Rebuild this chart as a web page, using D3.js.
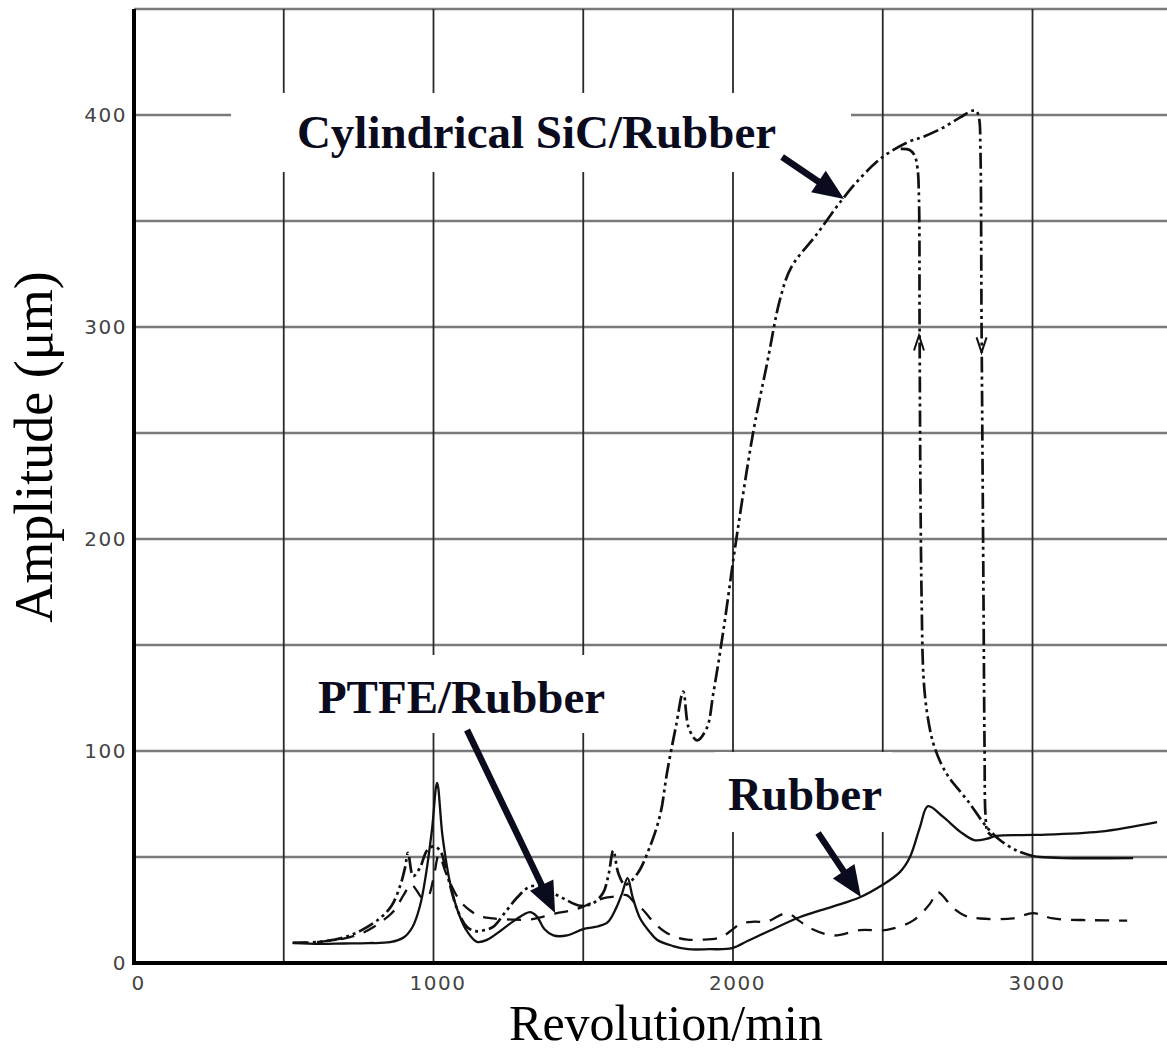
<!DOCTYPE html>
<html>
<head>
<meta charset="utf-8">
<script src="https://cdn.jsdelivr.net/npm/d3@7"></script>
<style>
  html, body { margin: 0; padding: 0; background: #fff; }
  svg { display: block; }
</style>
</head>
<body>
<svg id="chart" width="1167" height="1052"></svg>
<script>
// ---------- data ----------
const xTicks = [0, 1000, 2000, 3000];
const yTicks = [0, 100, 200, 300, 400];
const xGrid = [500, 1000, 1500, 2000, 2500, 3000];
const yGrid = [50, 100, 150, 200, 250, 300, 350, 400, 450];

// Rubber (solid)
const rubber = [
  [530,9.5],[620,9],[700,9.2],[780,9.4],[855,9.8],[900,12],[930,17],[955,27],[975,42],[995,63],
  [1012,85],[1030,60],[1055,38],[1085,23],[1112,15],[1145,10],[1180,11],[1222,15],[1270,20],
  [1322,24],[1345,22],[1370,16],[1400,13],[1446,13],[1500,16],[1540,17],[1580,19],[1610,26],
  [1630,33],[1648,40],[1665,31],[1690,21],[1720,15],[1746,11],[1800,8],[1850,6.5],[1920,6.5],
  [1997,7],[2050,10.5],[2113,14.6],[2224,21.7],[2330,26.5],[2424,31],[2501,37],[2558,43],
  [2591,50],[2624,64],[2651,74],[2701,69],[2758,62],[2805,58],[2845,58.5],[2880,60],
  [3002,60.4],[3225,62],[3416,66.5]
];

// PTFE/Rubber (dashed)
const ptfe = [
  [530,9.5],[620,10],[700,11.5],[760,14],[800,17],[840,21],[870,25],[900,32],[925,37],[945,34],
  [960,31],[980,31],[1000,40],[1018,51],[1040,43],[1065,35],[1090,29],[1120,25],[1156,22],
  [1200,21],[1260,20.5],[1322,20.5],[1370,22],[1412,23.5],[1450,24.5],[1489,26],[1530,28.5],
  [1566,30.5],[1613,31.5],[1645,32],[1680,27],[1700,25],[1730,20],[1770,15],[1813,12],
  [1847,11],[1890,11],[1957,12],[2000,16],[2024,18.5],[2070,19.5],[2113,19.5],[2180,23.5],
  [2220,20],[2257,16.5],[2334,13],[2424,15.5],[2514,15.6],[2601,20],[2658,28],[2683,33.5],
  [2735,26],[2780,22],[2825,21],[2935,21],[3002,23.5],[3069,21],[3200,20.2],[3316,20]
];

// Cylindrical SiC/Rubber, increasing speed (dash-dot-dot)
const sicUp = [
  [530,9.5],[620,10],[700,12],[760,15.5],[820,21],[860,27],[890,37],[905,45],[915,52],[932,41],
  [955,45],[978,53],[1000,55],[1022,53],[1045,42],[1080,25],[1112,17],[1140,15],[1170,15.5],
  [1199,17],[1240,24],[1280,31],[1322,36],[1366,36],[1400,33],[1433,30.5],[1489,27],[1530,28],
  [1566,33],[1585,42],[1600,53],[1618,42],[1640,37],[1680,42],[1723,55],[1757,70],[1780,90],
  [1810,112],[1834,128],[1852,111],[1880,105],[1913,111],[1934,127],[1967,156],[2007,196],
  [2067,250],[2114,283],[2157,313],[2194,328],[2281,344],[2364,360],[2430,371],[2498,380],
  [2581,387],[2640,390],[2701,394],[2760,399],[2798,402],[2812,402],[2822,398],[2826,385],
  [2830,300],[2836,180],[2840,100],[2843,70],[2850,62],[2865,60]
];

// Cylindrical SiC/Rubber, decreasing speed (dash-dot-dot, then solid tail)
const sicDown = [
  [2560,384],[2590,383.5],[2606,381],[2616,375],[2621,360],[2623,300],[2626,220],[2630,170],
  [2636,135],[2648,118],[2668,104],[2695,94],[2724,87],[2781,77],[2848,64],[2891,58],
  [2948,53],[3000,50.5]
];
const sicDownTail = [[3000,50.5],[3025,50],[3100,49.5],[3336,49.5]];

// jump direction marks on the vertical branches
const jumpMarks = [
  {rpm: 2621, amp: 296, dir: 1},
  {rpm: 2830, amp: 288, dir: -1}
];

// labels, white boxes and pointer arrows (data units)
const labels = [
  {text: "Cylindrical SiC/Rubber", rpm: 544, amp: 384.4},
  {text: "PTFE/Rubber", rpm: 614, amp: 117.9},
  {text: "Rubber", rpm: 1983, amp: 72.2}
];
const labelBoxes = [
  {x0: 324, x1: 2394, y0: 373.1, y1: 410.4},
  {x0: 554, x1: 1639, y0: 108.5, y1: 145.3},
  {x0: 1940, x1: 2531, y0: 61.8, y1: 99.5}
];
const pointers = [
  {from: [2164, 380.2], to: [2371, 360.4]},
  {from: [1112, 109.9], to: [1406, 23.6]},
  {from: [2284, 61.3], to: [2427, 31.1]}
];

// ---------- drawing ----------
const svg = d3.select("#chart");
svg.append("rect").attr("width", 1167).attr("height", 1052).attr("fill", "#fff");

const x = d3.scaleLinear().domain([0, 3450]).range([134, 134 + 3450 * 0.2995]);
const y = d3.scaleLinear().domain([0, 450]).range([963, 9]);

// grid
svg.append("g").selectAll("line").data(yGrid).join("line")
  .attr("x1", x(0)).attr("x2", 1167)
  .attr("y1", d => y(d)).attr("y2", d => y(d))
  .attr("stroke", "#7a7a7a").attr("stroke-width", 2.4);
svg.append("g").selectAll("line").data(xGrid).join("line")
  .attr("x1", d => x(d)).attr("x2", d => x(d))
  .attr("y1", y(450)).attr("y2", y(0))
  .attr("stroke", "#2a2a2a").attr("stroke-width", 1.8);

// white label boxes (hide grid behind labels)
svg.append("g").selectAll("rect").data(labelBoxes).join("rect")
  .attr("x", d => x(d.x0)).attr("width", d => x(d.x1) - x(d.x0))
  .attr("y", d => y(d.y1)).attr("height", d => y(d.y0) - y(d.y1))
  .attr("fill", "#fff");

// axes lines
svg.append("line").attr("x1", x(0)).attr("x2", x(0)).attr("y1", y(450)).attr("y2", y(0) + 2)
  .attr("stroke", "#000").attr("stroke-width", 4);
svg.append("line").attr("x1", x(0) - 2).attr("x2", 1167).attr("y1", y(0)).attr("y2", y(0))
  .attr("stroke", "#000").attr("stroke-width", 4);

// tick labels via d3 axes
const tickFont = "'DejaVu Sans', 'Liberation Sans', sans-serif";
const yAxis = svg.append("g").attr("transform", `translate(${x(0)},0)`)
  .call(d3.axisLeft(y).tickValues(yTicks).tickSize(0).tickPadding(7).tickFormat(d3.format("d")));
const xAxis = svg.append("g").attr("transform", `translate(0,${y(0)})`)
  .call(d3.axisBottom(x).tickValues(xTicks).tickSize(0).tickPadding(13).tickFormat(d3.format("d")));
[yAxis, xAxis].forEach(g => {
  g.select(".domain").remove();
  g.selectAll("text").attr("font-family", tickFont).attr("font-size", 20)
    .attr("letter-spacing", "1.5px").attr("fill", "#444");
});
xAxis.selectAll("text").attr("dx", "0.2em");

// curves
const line = d3.line().x(d => x(d[0])).y(d => y(d[1])).curve(d3.curveCatmullRom.alpha(0.5));
const curves = svg.append("g").attr("fill", "none").attr("stroke", "#111")
  .attr("stroke-linejoin", "round");
curves.append("path").datum(ptfe).attr("d", line)
  .attr("stroke-width", 2.3).attr("stroke-dasharray", "14,10");
curves.append("path").datum(rubber).attr("d", line).attr("stroke-width", 2.3);
curves.append("path").datum(sicUp).attr("d", line)
  .attr("stroke-width", 2.7).attr("stroke-dasharray", "16,4,3,4,3,4");
curves.append("path").datum(sicDown).attr("d", line)
  .attr("stroke-width", 2.7).attr("stroke-dasharray", "16,4,3,4,3,4");
curves.append("path").datum(sicDownTail).attr("d", line).attr("stroke-width", 2.3);

// jump direction chevrons
svg.append("g").selectAll("path").data(jumpMarks).join("path")
  .attr("d", d => {
    const px = x(d.rpm), py = y(d.amp);
    return `M${px - 5},${py + 15 * d.dir} L${px},${py} L${px + 5},${py + 15 * d.dir}`;
  })
  .attr("fill", "none").attr("stroke", "#111").attr("stroke-width", 2);

// pointer arrows
const navy = "#0b0b1e";
const arrows = svg.append("g");
pointers.forEach(p => {
  const x0 = x(p.from[0]), y0 = y(p.from[1]);
  const x1 = x(p.to[0]), y1 = y(p.to[1]);
  const len = Math.hypot(x1 - x0, y1 - y0);
  const ux = (x1 - x0) / len, uy = (y1 - y0) / len;
  const hl = 31, hw = 13;
  const bx = x1 - ux * hl, by = y1 - uy * hl;
  arrows.append("line").attr("x1", x0).attr("y1", y0).attr("x2", bx + ux * 2).attr("y2", by + uy * 2)
    .attr("stroke", navy).attr("stroke-width", 6.5);
  arrows.append("path")
    .attr("d", `M${x1},${y1} L${bx - uy * hw},${by + ux * hw} L${bx + uy * hw},${by - ux * hw} Z`)
    .attr("fill", navy);
});

// labels
svg.append("g").selectAll("text").data(labels).join("text")
  .attr("x", d => x(d.rpm)).attr("y", d => y(d.amp))
  .attr("font-family", "'Liberation Serif', 'Times New Roman', serif")
  .attr("font-weight", "bold").attr("font-size", 47).attr("fill", navy)
  .text(d => d.text);

// axis titles
svg.append("text")
  .attr("x", 666).attr("y", 1040)
  .attr("text-anchor", "middle")
  .attr("font-family", "'Liberation Serif', 'Times New Roman', serif")
  .attr("font-size", 50).attr("fill", "#000")
  .text("Revolution/min");
svg.append("text")
  .attr("transform", "translate(52,447) rotate(-90)")
  .attr("text-anchor", "middle")
  .attr("font-family", "'Liberation Serif', 'Times New Roman', serif")
  .attr("font-size", 54).attr("fill", "#000")
  .text("Amplitude (\u03bcm)");
</script>
</body>
</html>
